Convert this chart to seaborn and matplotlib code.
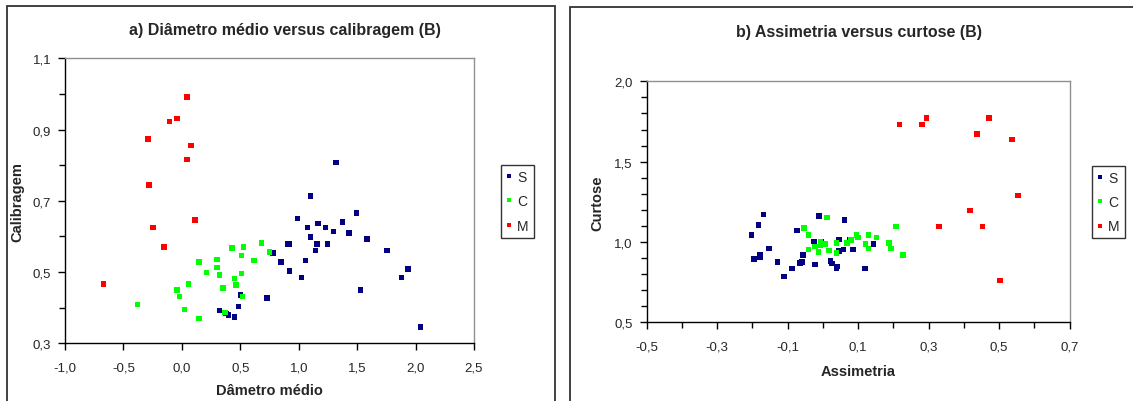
import pandas as pd
import matplotlib
matplotlib.use("Agg")
import matplotlib.pyplot as plt
from matplotlib.patches import Rectangle
from matplotlib.ticker import FixedLocator, FixedFormatter
import seaborn as sns

# ---- a) diâmetro médio (x) versus calibragem (y) ----
a_S_x = [0.323, 0.377, 0.400, 0.451, 0.486, 0.500, 0.729, 0.780, 0.849, 0.903,
         0.923, 0.923, 0.991, 1.023, 1.057, 1.077, 1.100, 1.100, 1.143, 1.157,
         1.166, 1.231, 1.246, 1.297, 1.320, 1.374, 1.429, 1.494, 1.529, 1.583,
         1.757, 1.880, 1.934, 2.043]
a_S_y = [0.392, 0.384, 0.380, 0.374, 0.403, 0.435, 0.427, 0.553, 0.528, 0.579,
         0.579, 0.503, 0.650, 0.485, 0.532, 0.625, 0.714, 0.599, 0.560, 0.578,
         0.636, 0.625, 0.578, 0.614, 0.808, 0.640, 0.610, 0.665, 0.449, 0.593,
         0.560, 0.485, 0.509, 0.345]
a_C_x = [-0.380, -0.043, -0.020, 0.057, 0.023, 0.146, 0.149, 0.211, 0.300, 0.300,
         0.323, 0.354, 0.369, 0.431, 0.451, 0.463, 0.509, 0.509, 0.529, 0.520,
         0.617, 0.683, 0.751]
a_C_y = [0.409, 0.449, 0.431, 0.467, 0.395, 0.370, 0.528, 0.499, 0.535, 0.513,
         0.492, 0.456, 0.387, 0.568, 0.482, 0.463, 0.496, 0.546, 0.571, 0.431,
         0.532, 0.582, 0.556]
a_M_x = [0.046, -0.106, -0.040, -0.291, 0.080, 0.046, -0.283, 0.111, -0.249,
         -0.151, -0.669]
a_M_y = [0.991, 0.923, 0.931, 0.873, 0.855, 0.816, 0.744, 0.646, 0.625,
         0.571, 0.467]

# ---- b) assimetria (x) versus curtose (y) ----
b_S_x = [-0.168, -0.183, -0.202, -0.153, -0.179, -0.179, -0.195, -0.129, -0.111,
         -0.088, -0.073, -0.065, -0.060, -0.057, -0.026, -0.022, -0.011, -0.005,
         0.022, 0.026, 0.038, 0.042, 0.046, 0.046, 0.058, 0.061, 0.077, 0.085,
         0.119, 0.144]
b_S_y = [1.170, 1.104, 1.045, 0.960, 0.919, 0.908, 0.894, 0.877, 0.786,
         0.836, 1.070, 0.869, 0.877, 0.919, 1.004, 0.861, 1.162, 1.004,
         0.880, 0.865, 0.838, 0.846, 1.014, 0.944, 0.954, 1.137, 1.016, 0.954,
         0.836, 0.987]
b_C_x = [-0.054, -0.041, -0.041, -0.023, -0.012, -0.007, -0.007, 0.007, 0.012,
         0.018, 0.038, 0.038, 0.068, 0.080, 0.095, 0.099, 0.121, 0.129, 0.129,
         0.152, 0.187, 0.194, 0.208, 0.228]
b_C_y = [1.087, 1.045, 0.954, 0.973, 0.938, 1.004, 0.977, 0.987, 1.153,
         0.946, 0.995, 0.931, 0.995, 1.012, 1.045, 1.029, 0.987, 1.045, 0.960,
         1.029, 0.995, 0.960, 1.095, 0.919]
b_M_x = [0.217, 0.281, 0.294, 0.437, 0.472, 0.537, 0.553, 0.418, 0.330, 0.453, 0.503]
b_M_y = [1.730, 1.730, 1.771, 1.671, 1.771, 1.638, 1.288, 1.195, 1.095, 1.095, 0.761]

grupos = ["S", "C", "M"]
cores = {"S": "#000080", "C": "#00FF00", "M": "#FF0000"}

# tick positions and labels
a_xticks = [-1.0, -0.5, 0.0, 0.5, 1.0, 1.5, 2.0, 2.5]
a_xlabels = ["-1,0", "-0,5", "0,0", "0,5", "1,0", "1,5", "2,0", "2,5"]
a_yticks = [0.3, 0.5, 0.7, 0.9, 1.1]
a_ylabels = ["0,3", "0,5", "0,7", "0,9", "1,1"]
a_yminor = [0.4, 0.6, 0.8, 1.0]

b_xticks = [-0.5, -0.3, -0.1, 0.1, 0.3, 0.5, 0.7]
b_xlabels = ["-0,5", "-0,3", "-0,1", "0,1", "0,3", "0,5", "0,7"]
b_xminor = [-0.4, -0.2, 0.0, 0.2, 0.4, 0.6]
b_yticks = [0.5, 1.0, 1.5, 2.0]
b_ylabels = ["0,5", "1,0", "1,5", "2,0"]
b_yminor = [0.6, 0.7, 0.8, 0.9, 1.1, 1.2, 1.3, 1.4, 1.6, 1.7, 1.8, 1.9]


def tabela(xs, ys, nx, ny):
    partes = []
    for g, (x, y) in zip(grupos, zip(xs, ys)):
        partes.append(pd.DataFrame({nx: x, ny: y, "grupo": g}))
    return pd.concat(partes, ignore_index=True)


df_a = tabela([a_S_x, a_C_x, a_M_x], [a_S_y, a_C_y, a_M_y], "diametro", "calibragem")
df_b = tabela([b_S_x, b_C_x, b_M_x], [b_S_y, b_C_y, b_M_y], "assimetria", "curtose")

sns.set_style("white")
plt.rcParams["font.family"] = ["Liberation Sans", "DejaVu Sans"]

W, H = 1133, 402
fig = plt.figure(figsize=(W / 100, H / 100), dpi=100)
fig.patch.set_facecolor("white")


def px_axes(l, t, r, b):
    return fig.add_axes([l / W, 1 - b / H, (r - l) / W, (b - t) / H])


ax_a = px_axes(65, 59.3, 474, 344.3)
ax_b = px_axes(646.7, 82.3, 1069.6, 323.3)

# outer panel frames
fig.add_artist(Rectangle((7 / W, -0.1), (555 - 7) / W, 1.1 - 7 / H,
                         transform=fig.transFigure, fill=False,
                         ec="#333333", lw=1.3, clip_on=False))
fig.add_artist(Rectangle((570 / W, -0.1), 0.6, 1.1 - 8.3 / H,
                         transform=fig.transFigure, fill=False,
                         ec="#333333", lw=1.3, clip_on=False))


def desenhar(ax, df, x, y):
    sns.scatterplot(data=df, x=x, y=y, hue="grupo", hue_order=grupos,
                    palette=cores, marker="s", s=16, linewidth=0,
                    ax=ax, legend=True, clip_on=False, zorder=3)


desenhar(ax_a, df_a, "diametro", "calibragem")
desenhar(ax_b, df_b, "assimetria", "curtose")


def eixos(ax, xt, xl, yt, yl, xmin=None, ymin=None):
    ax.set_xlim(xt[0], xt[-1])
    ax.set_ylim(yt[0], yt[-1])
    ax.xaxis.set_major_locator(FixedLocator(xt))
    ax.xaxis.set_major_formatter(FixedFormatter(xl))
    ax.yaxis.set_major_locator(FixedLocator(yt))
    ax.yaxis.set_major_formatter(FixedFormatter(yl))
    if xmin:
        ax.xaxis.set_minor_locator(FixedLocator(xmin))
    if ymin:
        ax.yaxis.set_minor_locator(FixedLocator(ymin))
    ax.tick_params(which="major", length=5)
    ax.tick_params(which="minor", length=4)
    ax.tick_params(which="both", direction="out", width=1,
                   color="black", labelsize=9.5,
                   bottom=True, left=True, top=False, right=False)
    ax.tick_params(axis="x", which="both", pad=8)
    ax.tick_params(axis="y", which="both", pad=5)
    for s in ("left", "bottom"):
        ax.spines[s].set_color("black")
        ax.spines[s].set_linewidth(1.0)
    for s in ("top", "right"):
        ax.spines[s].set_color("#909090")
        ax.spines[s].set_linewidth(1.0)
    ax.set_facecolor("white")


eixos(ax_a, a_xticks, a_xlabels, a_yticks, a_ylabels, ymin=a_yminor)
eixos(ax_b, b_xticks, b_xlabels, b_yticks, b_ylabels, xmin=b_xminor, ymin=b_yminor)

ax_a.set_xlabel("Dâmetro médio", fontsize=10.5, fontweight="bold")
ax_a.set_ylabel("Calibragem", fontsize=10.5, fontweight="bold")
ax_a.xaxis.set_label_coords(0.5, -0.14)
ax_a.yaxis.set_label_coords(-0.10, 0.5)
ax_b.set_xlabel("Assimetria", fontsize=10.5, fontweight="bold")
ax_b.set_ylabel("Curtose", fontsize=10.5, fontweight="bold")
ax_b.xaxis.set_label_coords(0.5, -0.175)
ax_b.yaxis.set_label_coords(-0.101, 0.5)

fig.text(285 / W, 1 - 31 / H, "a) Diâmetro médio versus calibragem (B)",
         ha="center", va="center", fontsize=11.5, fontweight="bold")
fig.text(859 / W, 1 - 32 / H, "b) Assimetria versus curtose (B)",
         ha="center", va="center", fontsize=11.5, fontweight="bold")


def legenda(ax, left, top):
    handles, labels = ax.get_legend_handles_labels()
    leg = ax.legend(handles, labels, loc="upper left",
                    bbox_to_anchor=(left / W, 1 - top / H),
                    bbox_transform=fig.transFigure, frameon=True,
                    fancybox=False, edgecolor="black", fontsize=10,
                    handlelength=0.4, handletextpad=0.4, borderpad=0.35,
                    labelspacing=0.75, markerscale=0.7, borderaxespad=0)
    leg.get_frame().set_linewidth(1.0)


legenda(ax_a, 501.3, 166)
legenda(ax_b, 1092.3, 166.7)

fig.savefig("out.png", dpi=100, facecolor="white")
